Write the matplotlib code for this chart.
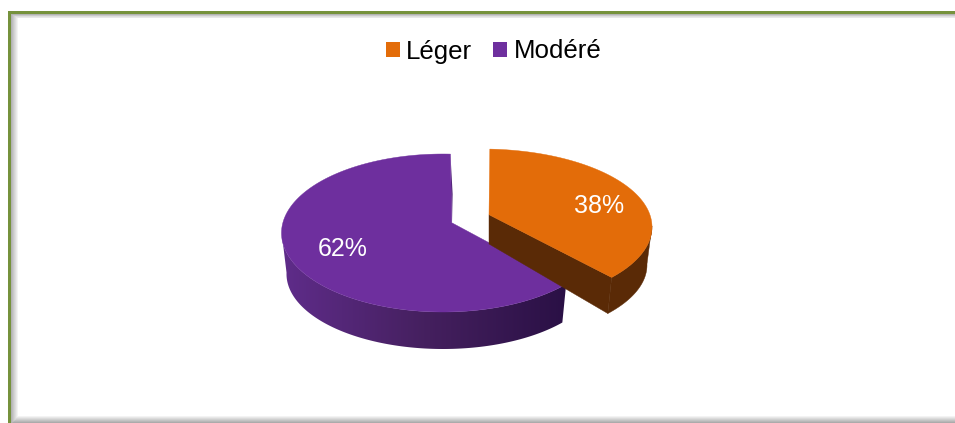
import numpy as np
import matplotlib
matplotlib.use("Agg")
import matplotlib.pyplot as plt
from matplotlib.patches import Polygon, Rectangle, Patch
from matplotlib.colors import LinearSegmentedColormap

plt.rcParams['font.family'] = ['Liberation Sans', 'DejaVu Sans']

categories = ['Léger', 'Modéré']
percentages = [38, 62]
top_colors = ['#E36C09', '#6E2F9E']

W, H = 955, 423
fig = plt.figure(figsize=(W / 100, H / 100), dpi=100)
ax = fig.add_axes([0, 0, 1, 1])
ax.set_xlim(0, W)
ax.set_ylim(H, 0)
ax.axis('off')

# ---- frame with inner shadow ----
green = '#76923C'
for i in range(8):
    g = 0.66 + 0.34 * (i + 1) / 8
    c = (g, g, g)
    ax.add_patch(Rectangle((11 + i, 14 + i * 0.6), 1, H, fc=c, ec='none', zorder=1))
    ax.add_patch(Rectangle((11 + i, 14 + i * 0.6), W, 1, fc=c, ec='none', zorder=1))
for i in range(7):
    g = 1 - 0.33 * (i + 1) / 7
    ax.add_patch(Polygon([(18 - i * 0.8, 416 + i), (W, 416 + i), (W, 417 + i), (17 - i * 0.8, 417 + i)],
                         fc=(g, g, g), ec='none', zorder=2))
ax.add_patch(Rectangle((8, 11), W, 3, fc=green, ec='none', zorder=3))
ax.add_patch(Rectangle((8, 11), 3, H, fc=green, ec='none', zorder=3))

# ---- pie geometry (disc angles warped by the view's perspective) ----
w = 0.068 * np.exp(1j * np.radians(72.5))
def warp(theta_deg):
    z = np.exp(1j * np.radians(theta_deg))
    return np.unwrap(np.angle((z + w) / (1 + np.conj(w) * z)))

def ell(t, cx, cy, a, b):
    return np.column_stack([cx + a * np.cos(t), cy - b * np.sin(t)])

start = 89.5
sweeps = [p / sum(percentages) * 360 for p in percentages]
orange_th = np.linspace(start, start - sweeps[0], 200)
purple_th = np.linspace(start - sweeps[0], start - 360, 400)

# Modéré
P_TOP = (443, 233, 161.5, 79)
P_BOT = (443, 274, 156.5, 75)
P_APEX = (451.7, 222.7)
t = warp(purple_th)
top = ell(t, *P_TOP)
bot = ell(t, *P_BOT)
mask = np.sin(t) < 0.02
wall_poly = Polygon(np.vstack([top[mask], bot[mask][::-1]]), fc='none', ec='none', transform=ax.transData)
ax.add_patch(wall_poly)
cmap = LinearSegmentedColormap.from_list('wall', ['#5F2C8A', '#45205F', '#2A1045'])
img = ax.imshow(np.linspace(0, 1, 256).reshape(1, -1), cmap=cmap, aspect='auto',
                extent=(282, 566, 350, 230), zorder=4)
img.set_clip_path(wall_poly)
ax.set_xlim(0, W)
ax.set_ylim(H, 0)
s = top[-1]
ax.add_patch(Polygon([P_APEX, s, (s[0] + 2.2, s[1] + 40), (P_APEX[0] + 0.3, P_APEX[1])],
                     fc='#4F2476', ec='none', zorder=4))
ax.add_patch(Polygon(np.vstack([[P_APEX], top]), fc=top_colors[1], ec=top_colors[1], lw=0.3, zorder=5))

# Léger
O_TOP = (482, 227, 170, 78)
O_BOT = (482, 265, 165, 75)
O_APEX = (489, 214.7)
O_APEX_BOT = (489, 244)
t = warp(orange_th)
top = ell(t, *O_TOP)
bot = ell(t, *O_BOT)
wall = '#5A2A06'
mask = np.sin(t) < 0.02
ax.add_patch(Polygon(np.vstack([top[mask], bot[mask][::-1]]), fc=wall, ec=wall, lw=0.3, zorder=6))
ax.add_patch(Polygon([O_APEX, top[-1], bot[-1], O_APEX_BOT], fc=wall, ec=wall, lw=0.3, zorder=6))
ax.add_patch(Polygon(np.vstack([[O_APEX], top]), fc=top_colors[0], ec=top_colors[0], lw=0.3, zorder=7))

# ---- labels ----
label_xy = [(599, 206), (343, 248.5)]
for (x, y), p in zip(label_xy, percentages):
    ax.text(x, y, f'{p}%', color='white', fontsize=18, ha='center', va='center', zorder=8)

# ---- legend ----
handles = [Patch(fc=c, ec='none', label=n) for c, n in zip(top_colors, categories)]
ax.legend(handles=handles, loc='center', bbox_to_anchor=(493.5, 51.5), bbox_transform=ax.transData,
          ncol=2, frameon=False, fontsize=18.6, handlelength=0.55, handleheight=0.55,
          handletextpad=0.24, columnspacing=0.8, borderpad=0, borderaxespad=0)

fig.savefig('out.png', dpi=100)
